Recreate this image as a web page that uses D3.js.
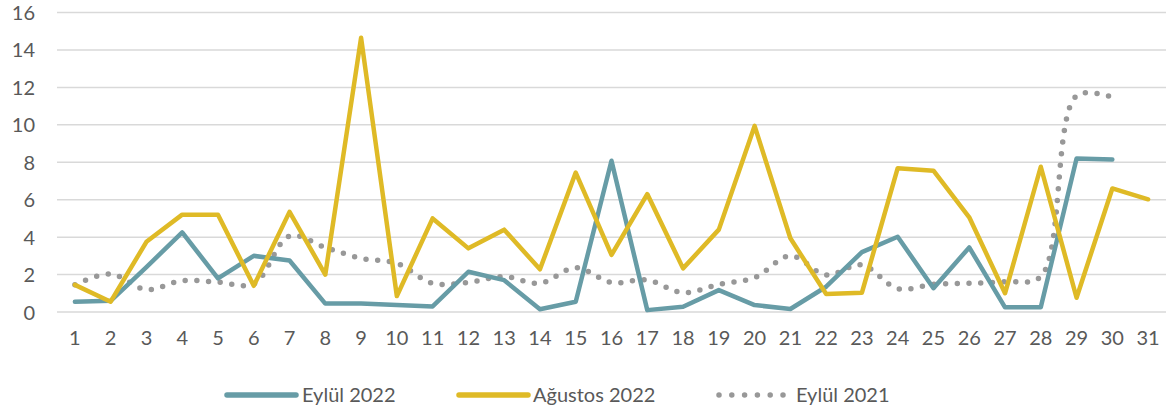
<!DOCTYPE html>
<html>
<head>
<meta charset="utf-8">
<script src="https://cdn.jsdelivr.net/npm/d3@7/dist/d3.min.js"></script>
<style>
  html, body { margin: 0; padding: 0; background: #ffffff; }
  svg { display: block; font-family: Lato, "Open Sans", sans-serif; }
</style>
</head>
<body>
<svg id="chart" width="1171" height="416"></svg>
<script>
const days = d3.range(1, 32).map(String);
const yTicks = [0, 2, 4, 6, 8, 10, 12, 14, 16];

const eylul2022 = [0.55, 0.6, 2.4, 4.25, 1.8, 3.0, 2.75, 0.45, 0.45, 0.37, 0.3, 2.15, 1.7, 0.15, 0.55, 8.08, 0.1, 0.28, 1.17, 0.37, 0.16, 1.35, 3.2, 4.02, 1.27, 3.45, 0.25, 0.25, 8.2, 8.15, null];
const agustos2022 = [1.45, 0.55, 3.75, 5.2, 5.2, 1.4, 5.35, 2.0, 14.65, 0.85, 5.0, 3.4, 4.4, 2.28, 7.45, 3.05, 6.3, 2.33, 4.4, 9.94, 3.94, 0.96, 1.03, 7.68, 7.55, 5.06, 1.0, 7.76, 0.76, 6.6, 6.02];
const eylul2021 = [1.45, 2.03, 1.2, 1.67, 1.6, 1.5, 4.06, 3.45, 2.87, 2.6, 1.53, 1.58, 1.89, 1.53, 2.37, 1.57, 1.71, 1.03, 1.48, 1.83, 3.0, 1.98, 2.51, 1.25, 1.48, 1.53, 1.62, 1.89, 11.55, 11.47, null];

const seriesNames = ["Eylül 2022", "Ağustos 2022", "Eylül 2021"];

const svg = d3.select("#chart");
const textColor = "#595959";
const colors = { "Eylül 2022": "#679ca6", "Ağustos 2022": "#dfba26", "Eylül 2021": "#989898" };

const x = d3.scaleBand().domain(days).range([57, 1166]).padding(0);
const y = d3.scaleLinear().domain([0, 16]).range([312, 12.5]);
const cx = d => x(d) + x.bandwidth() / 2;

// gridlines
svg.append("g").selectAll("line").data(yTicks).join("line")
  .attr("x1", 57).attr("x2", 1166)
  .attr("y1", d => y(d)).attr("y2", d => y(d))
  .attr("stroke", "#d9d9d9").attr("stroke-width", 1.5);

// y axis labels
const yAxis = d3.axisLeft(y).tickValues(yTicks).tickSize(0).tickPadding(0);
const gy = svg.append("g").attr("transform", "translate(35,0)").call(yAxis);
gy.select(".domain").remove();
gy.selectAll("text").attr("fill", textColor).attr("font-size", 20)
  .attr("font-family", "Lato, sans-serif").attr("dy", "0.35em").attr("x", 0);

// x axis labels
const xAxis = d3.axisBottom(x).tickSize(0).tickPadding(0);
const gx = svg.append("g").attr("transform", "translate(0,331)").call(xAxis);
gx.select(".domain").remove();
gx.selectAll("text").attr("fill", textColor).attr("font-size", 20)
  .attr("font-family", "Lato, sans-serif").attr("dy", "0.71em").attr("y", 0);

function makeData(arr) {
  return arr.map((v, i) => ({ day: days[i], v })).filter(d => d.v !== null);
}

const lineStraight = d3.line().x(d => cx(d.day)).y(d => y(d.v));
const lineSmooth = d3.line().x(d => cx(d.day)).y(d => y(d.v)).curve(d3.curveCatmullRom.alpha(0.5));

// Eylül 2021 dotted smooth
svg.append("path").datum(makeData(eylul2021))
  .attr("d", lineSmooth).attr("fill", "none")
  .attr("stroke", colors["Eylül 2021"]).attr("stroke-width", 5.5)
  .attr("stroke-linecap", "round").attr("stroke-dasharray", "0 11.7");

// Eylül 2022
svg.append("path").datum(makeData(eylul2022))
  .attr("d", lineStraight).attr("fill", "none")
  .attr("stroke", colors["Eylül 2022"]).attr("stroke-width", 4.5)
  .attr("stroke-linejoin", "round").attr("stroke-linecap", "round");

// Ağustos 2022
svg.append("path").datum(makeData(agustos2022))
  .attr("d", lineStraight).attr("fill", "none")
  .attr("stroke", colors["Ağustos 2022"]).attr("stroke-width", 4.5)
  .attr("stroke-linejoin", "round").attr("stroke-linecap", "round");

// legend
const legendItems = [
  { name: "Eylül 2022", x1: 227, x2: 296, tx: 302, dash: null },
  { name: "Ağustos 2022", x1: 459, x2: 528, tx: 533, dash: null },
  { name: "Eylül 2021", x1: 719, x2: 783, tx: 796, dash: "0 12.8" }
];
const lg = svg.append("g");
legendItems.forEach(it => {
  lg.append("line").attr("x1", it.x1).attr("x2", it.x2).attr("y1", 395).attr("y2", 395)
    .attr("stroke", colors[it.name]).attr("stroke-width", it.dash ? 5.5 : 5.5)
    .attr("stroke-linecap", "round")
    .attr("stroke-dasharray", it.dash);
  lg.append("text").attr("x", it.tx).attr("y", 395).attr("dy", "0.35em")
    .attr("fill", textColor).attr("font-size", 20).text(it.name);
});
</script>
</body>
</html>
